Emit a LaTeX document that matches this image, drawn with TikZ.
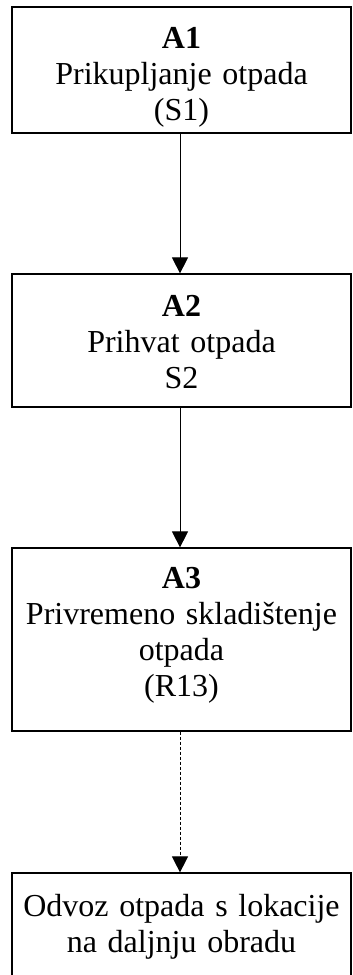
\documentclass[tikz,border=0pt]{standalone}
\usepackage{fontspec}
\setmainfont{Liberation Serif}
\usetikzlibrary{arrows.meta}
\tikzset{
  box/.style={draw=black, line width=1.2pt, rectangle, minimum width=339pt, inner sep=0pt},
  label text/.style={anchor=base, text width=337pt, align=center, inner sep=0pt,
    font=\fontsize{32pt}{36.3pt}\selectfont},
  flow/.style={line width=0.9pt, -{Triangle[width=16pt,length=16pt]}},
  dflow/.style={flow, line width=1pt, dash pattern=on 3.5pt off 1.5pt}
}
\begin{document}
\begin{tikzpicture}[x=1pt,y=1pt]
\useasboundingbox[fill=white] (0,0) rectangle (353,-975);
\clip (0,0) rectangle (353,-975);
\node[box, minimum height=126pt] (a1) at (181.5,-70) {};
\node[box, minimum height=133pt] (a2) at (181.5,-340.5) {};
\node[box, minimum height=183pt] (a3) at (181.5,-639.5) {};
\node[box, minimum height=106pt] (a4) at (181.5,-926) {};
\node[label text] (t1) at (181.5,-48) {\textbf{A1}\\Prikupljanje otpada\\(S1)};
\node[label text] (t2) at (181.5,-316) {\textbf{A2}\\Prihvat otpada\\S2};
\node[label text] (t3) at (181.5,-588) {\textbf{A3}\\Privremeno skladištenje\\otpada\\(R13)};
\node[label text] (t4) at (181.5,-916) {Odvoz otpada s lokacije\\na daljnju obradu};
\draw[flow] ([xshift=-1.5pt]a1.south) -- ([xshift=-1.5pt]a2.north);
\draw[flow] ([xshift=-1.5pt]a2.south) -- ([xshift=-1.5pt]a3.north);
\draw[dflow] ([xshift=-1.5pt]a3.south) -- ([xshift=-1.5pt]a4.north);
\end{tikzpicture}
\end{document}
